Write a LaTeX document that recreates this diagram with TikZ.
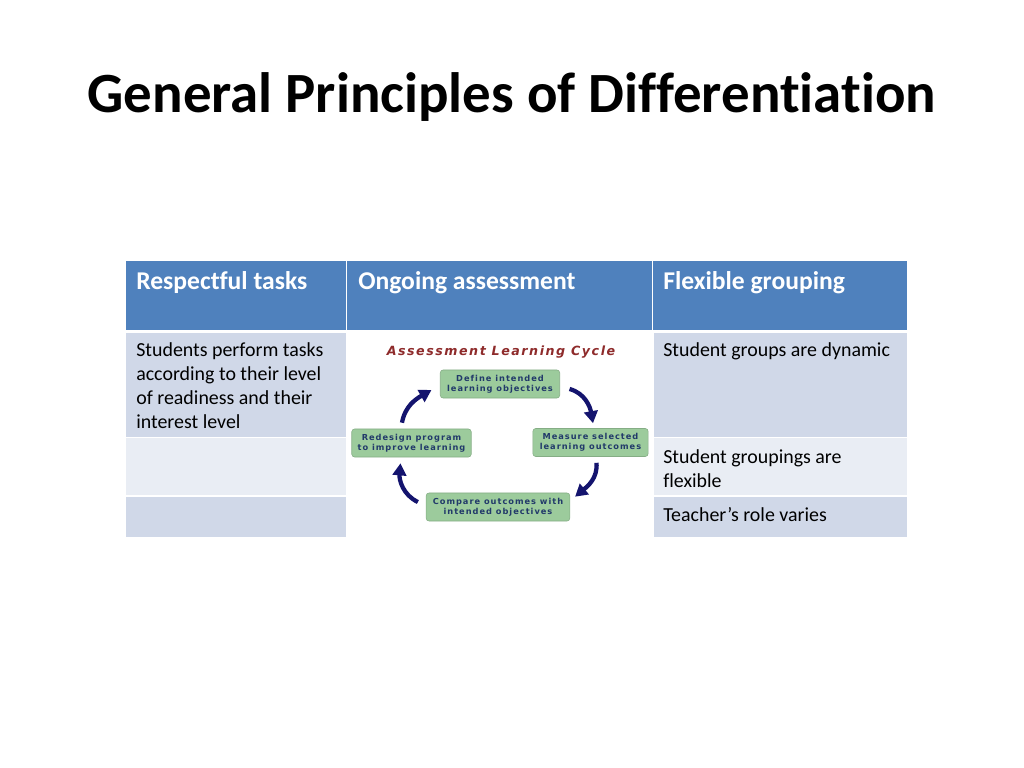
\documentclass[tikz,border=0pt]{standalone}
\usepackage{fontspec}
\setmainfont{Carlito}[Ligatures=NoCommon]
\newfontfamily\cyclefont[LetterSpace=12,Ligatures=NoCommon]{DejaVu Sans}
\usepackage{tikz}
\usetikzlibrary{positioning,arrows.meta}
\definecolor{hdrblue}{HTML}{4F81BD}
\definecolor{rowdark}{HTML}{D0D8E8}
\definecolor{rowlight}{HTML}{E9EDF4}
\definecolor{stepgreen}{HTML}{9CCB9C}
\definecolor{stepnavy}{HTML}{223A6A}
\definecolor{arrownavy}{HTML}{14146E}
\definecolor{cyclered}{HTML}{8E2B2B}

\begin{document}
\begin{tikzpicture}[x=0.703125pt,y=0.703125pt,
                    header/.style={anchor=north west,inner sep=0,text=white,font=\fontsize{18}{22}\selectfont\bfseries},
                    cell/.style={anchor=north west,inner sep=0,align=left,font=\fontsize{14}{17}\selectfont},
                    stepbox/.style={rounded corners=2pt,fill=stepgreen,draw=stepgreen!85!black,text=stepnavy,align=center,
                                    inner sep=1pt,minimum height=19.7pt,font=\cyclefont\fontsize{5.8}{7}\selectfont\bfseries},
                    cyc/.style={draw=arrownavy,line width=3pt,-{Triangle[length=8.5pt,width=9.5pt]}}
                ]
    \useasboundingbox (0,0) rectangle (1024,-768);
    \node[anchor=base,font=\fontsize{40}{48}\selectfont\bfseries] (title) at (512,-113) {General Principles of Differentiation};

    % table cells
    \foreach \xa/\xb in {126/346,347/652,653/907}
        {
        \fill[hdrblue] (\xa,-261) rectangle (\xb,-330);
        }
    \foreach \xa/\xb in {126/346,654/907}
        {
        \foreach \ya/\yb/\col in {333/437/rowdark,438/495/rowlight,497/537/rowdark}
            {
            \fill[\col] (\xa,-\ya) rectangle (\xb,-\yb);
            }
        }

    \node[header] (respect) at (136,-271) {Respectful tasks};
    \node[header] (ongoing) at (358,-271) {Ongoing assessment};
    \node[header] (flexible) at (663,-271) {Flexible grouping};

    \node[cell] (perform) at (136,-342) {Students perform tasks\\according to their level\\of readiness and their\\interest level};
    \node[cell] (dynamic) at (663,-342) {Student groups are dynamic};
    \node[cell] (groupings) at (663,-449) {Student groupings are\\flexible};
    \node[cell] (role) at (663,-507) {Teacher’s role varies};

    % assessment learning cycle
    \node[text=cyclered,font=\cyclefont\fontsize{8.9}{10}\selectfont\bfseries\itshape] (cycle) at (501,-352) {Assessment Learning Cycle};
    \node[stepbox,minimum width=84pt] (define) at (500,-384) {Define intended\\learning objectives};
    \node[stepbox,minimum width=81pt] (measure) at (590.5,-442.5) {Measure selected\\learning outcomes};
    \node[stepbox,minimum width=101pt] (compare) at (498,-507) {Compare outcomes with\\intended objectives};
    \node[stepbox,minimum width=84pt] (redesign) at (411.5,-443) {Redesign program\\to improve learning};

    \draw[cyc] ([shift={(9.5,-5)}]define.east) to[out=-15,in=100] ([shift={(2.5,5)}]measure.north);
    \draw[cyc] ([shift={(6,-6)}]measure.south) to[out=-85,in=40] ([shift={(5,-4)}]compare.north east);
    \draw[cyc] ([shift={(-8,5)}]compare.west) to[out=155,in=-95] ([shift={(-11,-6)}]redesign.south);
    \draw[cyc] ([shift={(-9.5,6)}]redesign.north) to[out=80,in=-150] ([shift={(-8.5,-6)}]define.west);
\end{tikzpicture}
\end{document}
